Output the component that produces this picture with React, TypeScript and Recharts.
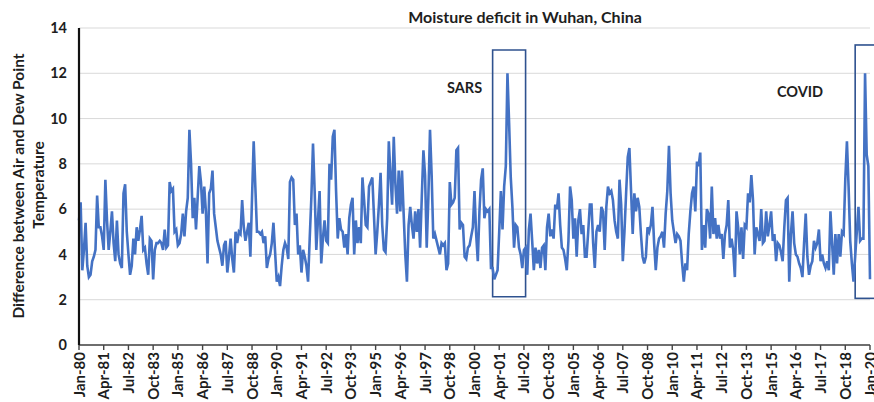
import React from 'react';
import { LineChart, Line, XAxis, YAxis, CartesianGrid, ReferenceArea } from 'recharts';

const MONTHS = ['Jan', 'Feb', 'Mar', 'Apr', 'May', 'Jun', 'Jul', 'Aug', 'Sep', 'Oct', 'Nov', 'Dec'];
const YEARS = Array.from({ length: 41 }, (_, i) => 1980 + i);

const values1980s = [
  5.5, 6.3, 3.3, 4.2, 5.4, 3.5, 3.0, 3.1, 3.7, 3.9, 4.2, 6.6,
  5.2, 5.2, 4.8, 4.2, 7.3, 5.5, 4.2, 5.0, 5.9, 4.5, 3.7, 5.5,
  4.0, 3.6, 3.4, 6.7, 7.1, 5.0, 4.0, 3.1, 3.5, 4.7, 4.0, 5.2,
  4.6, 5.1, 5.7, 4.2, 4.3, 3.6, 3.1, 4.7, 4.6, 2.9, 4.2, 4.5,
  4.5, 4.6, 4.5, 4.2, 5.1, 4.3, 4.4, 7.2, 6.8, 6.9, 5.0, 5.1,
  4.4, 4.5, 4.9, 5.8, 4.8, 5.9, 6.5, 9.5, 8.0, 5.6, 6.5, 5.1,
  6.5, 7.9, 7.2, 5.8, 7.0, 5.9, 3.6, 6.7, 6.9, 7.7, 5.8, 5.2,
  4.6, 4.3, 4.0, 3.5, 4.4, 4.6, 3.2, 3.9, 4.7, 3.8, 3.2, 5.0,
  4.5, 5.0, 4.9, 6.4, 5.2, 4.6, 5.0, 5.4, 3.9, 6.5, 9.0, 7.0,
  5.0, 5.0, 4.9, 5.0, 4.5, 4.8, 3.4, 3.8, 4.0, 4.5, 5.4, 4.1,
];
const values1990s = [
  2.8, 3.0, 2.6, 3.5, 4.2, 4.5, 4.3, 3.8, 7.2, 7.4, 7.3, 5.3,
  5.8, 4.0, 4.4, 3.2, 4.2, 3.9, 3.5, 2.8, 4.7, 6.5, 8.9, 6.8,
  4.2, 5.5, 6.8, 3.6, 4.7, 5.5, 4.6, 4.5, 8.0, 7.3, 9.2, 9.5,
  6.8, 4.7, 5.6, 5.1, 5.0, 4.3, 4.9, 4.0, 5.6, 6.2, 6.5, 4.0,
  5.5, 4.5, 5.2, 4.5, 7.4, 6.4, 5.3, 5.2, 7.0, 7.2, 7.4, 5.7,
  4.0, 5.0, 6.2, 7.6, 5.3, 4.2, 4.1, 5.6, 9.0, 7.5, 6.2, 9.2,
  7.1, 5.8, 7.7, 5.9, 7.7, 5.8, 4.0, 2.8, 5.3, 6.1, 5.3, 4.7,
  5.9, 5.0, 6.0, 4.3, 6.5, 8.6, 7.5, 4.3, 6.5, 9.5, 7.5, 4.7,
  4.9, 4.6, 4.3, 4.0, 4.5, 4.4, 4.5, 3.3, 3.6, 7.2, 6.2, 6.3,
  6.5, 8.6, 8.7, 5.1, 5.4, 5.3, 3.9, 3.8, 4.3, 4.4, 4.8, 5.2,
];
const values2000s = [
  6.8, 4.9, 3.7, 5.9, 7.3, 7.8, 5.6, 6.0, 5.9, 6.0, 3.4, 3.4,
  2.9, 3.1, 3.3, 5.0, 6.8, 5.1, 7.0, 7.9, 12.0, 9.8, 7.4, 6.1,
  4.3, 5.3, 5.2, 4.3, 4.0, 3.4, 4.2, 4.3, 3.1, 5.1, 5.8, 4.6,
  3.3, 4.3, 3.6, 4.2, 3.4, 4.3, 4.4, 3.3, 5.2, 5.8, 4.8, 5.1,
  4.7, 6.2, 6.0, 6.7, 5.3, 4.3, 4.2, 3.8, 3.3, 4.6, 7.0, 6.4,
  4.7, 5.6, 3.9, 5.5, 6.0, 4.9, 5.3, 3.9, 3.9, 5.0, 6.2, 6.2,
  4.5, 3.4, 5.0, 5.3, 5.0, 6.1, 5.9, 4.2, 6.1, 7.0, 6.7, 6.8,
  6.4, 5.5, 5.0, 4.7, 7.3, 6.2, 3.7, 5.0, 6.7, 8.3, 8.7, 6.8,
  4.9, 6.7, 5.9, 6.5, 6.1, 4.9, 3.9, 3.6, 3.9, 5.2, 5.0, 5.3,
  6.1, 4.5, 3.3, 4.3, 4.7, 4.8, 5.0, 4.3, 5.8, 6.8, 8.8, 6.7,
];
const values2010s = [
  5.5, 5.0, 4.5, 4.9, 4.8, 4.6, 3.6, 2.8, 3.6, 3.3, 4.9, 5.9,
  6.7, 7.0, 5.9, 8.1, 7.9, 8.5, 4.2, 5.3, 4.3, 6.0, 5.8, 4.7,
  7.0, 4.9, 5.6, 4.7, 5.3, 4.7, 4.9, 3.8, 4.9, 5.3, 6.4, 4.3,
  4.7, 4.2, 3.0, 5.9, 5.2, 4.0, 5.2, 3.8, 5.3, 5.2, 6.7, 6.3,
  7.5, 6.4, 4.0, 5.2, 4.9, 4.6, 6.0, 4.5, 4.6, 5.9, 4.8, 5.3,
  5.9, 4.6, 4.9, 3.7, 4.5, 4.4, 4.1, 3.7, 5.2, 6.4, 6.5, 2.8,
  4.9, 5.9, 4.5, 4.0, 3.9, 3.6, 3.4, 3.0, 4.5, 5.8, 3.9, 3.1,
  3.5, 3.7, 4.6, 4.3, 4.5, 5.1, 3.7, 4.0, 3.6, 3.4, 3.7, 3.3,
  5.9, 4.5, 3.1, 4.9, 3.6, 4.9, 3.9, 5.0, 4.9, 7.3, 9.0, 7.0,
  4.6, 3.6, 2.8, 3.9, 5.0, 6.1, 4.6, 4.7, 4.7, 12.0, 8.4, 7.9,
];
const values2020 = [2.9];

const series = [...values1980s, ...values1990s, ...values2000s, ...values2010s, ...values2020];

const categories: string[] = [];
YEARS.forEach((y) =>
  MONTHS.forEach((m) => categories.push(`${m}-${String(y % 100).padStart(2, '0')}`))
);

const data = series.map((v, i) => ({ label: categories[i], value: v }));

const yTicks = [0, 2, 4, 6, 8, 10, 12, 14];

const sarsBox = { x1: 'Dec-00', x2: 'Aug-02', y1: 2.13, y2: 13.03 };
const covidBox = { x1: 'Apr-19', x2: 'Jan-20', y1: 2.06, y2: 13.25 };

const FONT = "Lato, 'Open Sans', sans-serif";
const TEXT = '#1e1e1e';
const BOX = '#2F528F';

const XTick = (props: any) => {
  const { x, y, payload } = props;
  return (
    <text
      x={0}
      y={0}
      transform={`translate(${x + 5.5},${y}) rotate(-90)`}
      textAnchor="end"
      fontFamily={FONT}
      fontWeight={700}
      fontSize={15}
      fill={TEXT}
    >
      {payload.value}
    </text>
  );
};

const openBox = (p: any) => (
  <rect
    x={p.x}
    y={p.y}
    width={p.width + 40}
    height={p.height}
    fill="none"
    stroke={BOX}
    strokeWidth={1.6}
  />
);

export default function App() {
  return (
    <div style={{ position: 'absolute', left: 0, top: 0, width: 874, height: 402, background: '#fff' }}>
      <LineChart width={874} height={402} data={data} margin={{ top: 28, right: 4, bottom: 0, left: 0 }}>
        <CartesianGrid vertical={false} stroke="#D9D9D9" strokeWidth={1} />
        <XAxis
          dataKey="label"
          interval={14}
          height={57}
          tickSize={5}
          tickMargin={2}
          axisLine={{ stroke: '#444', strokeWidth: 1.6 }}
          tickLine={{ stroke: '#444', strokeWidth: 1.4 }}
          tick={<XTick />}
        />
        <YAxis
          width={79}
          domain={[0, 14]}
          ticks={yTicks}
          interval={0}
          tickLine={false}
          tickMargin={6}
          axisLine={{ stroke: '#111', strokeWidth: 2.2 }}
          tick={{ fontFamily: FONT, fontWeight: 700, fontSize: 14.5, fill: TEXT }}
        />
        <ReferenceArea
          x1={sarsBox.x1}
          x2={sarsBox.x2}
          y1={sarsBox.y1}
          y2={sarsBox.y2}
          fill="none"
          fillOpacity={0}
          stroke={BOX}
          strokeWidth={1.6}
          ifOverflow="visible"
        />
        <ReferenceArea
          x1={covidBox.x1}
          x2={covidBox.x2}
          y1={covidBox.y1}
          y2={covidBox.y2}
          ifOverflow="visible"
          shape={openBox}
        />
        <Line
          type="linear"
          dataKey="value"
          stroke="#4472C4"
          strokeWidth={2.6}
          dot={false}
          activeDot={false}
          isAnimationActive={false}
        />
      </LineChart>
      <svg
        width={874}
        height={402}
        style={{ position: 'absolute', left: 0, top: 0, pointerEvents: 'none' }}
      >
        <text x={525} y={23} textAnchor="middle" fontFamily={FONT} fontWeight={700} fontSize={16} fill={TEXT}>
          Moisture deficit in Wuhan, China
        </text>
        <text
          transform="translate(24,186) rotate(-90)"
          textAnchor="middle"
          fontFamily={FONT}
          fontWeight={700}
          fontSize={15.5}
          fill={TEXT}
        >
          Difference between Air and Dew Point
        </text>
        <text
          transform="translate(44,185) rotate(-90)"
          textAnchor="middle"
          fontFamily={FONT}
          fontWeight={700}
          fontSize={15.5}
          fill={TEXT}
        >
          Temperature
        </text>
        <text x={447} y={93} fontFamily={FONT} fontWeight={700} fontSize={14.5} fill={TEXT}>
          SARS
        </text>
        <text x={777} y={97} fontFamily={FONT} fontWeight={700} fontSize={14.5} fill={TEXT}>
          COVID
        </text>
      </svg>
    </div>
  );
}
